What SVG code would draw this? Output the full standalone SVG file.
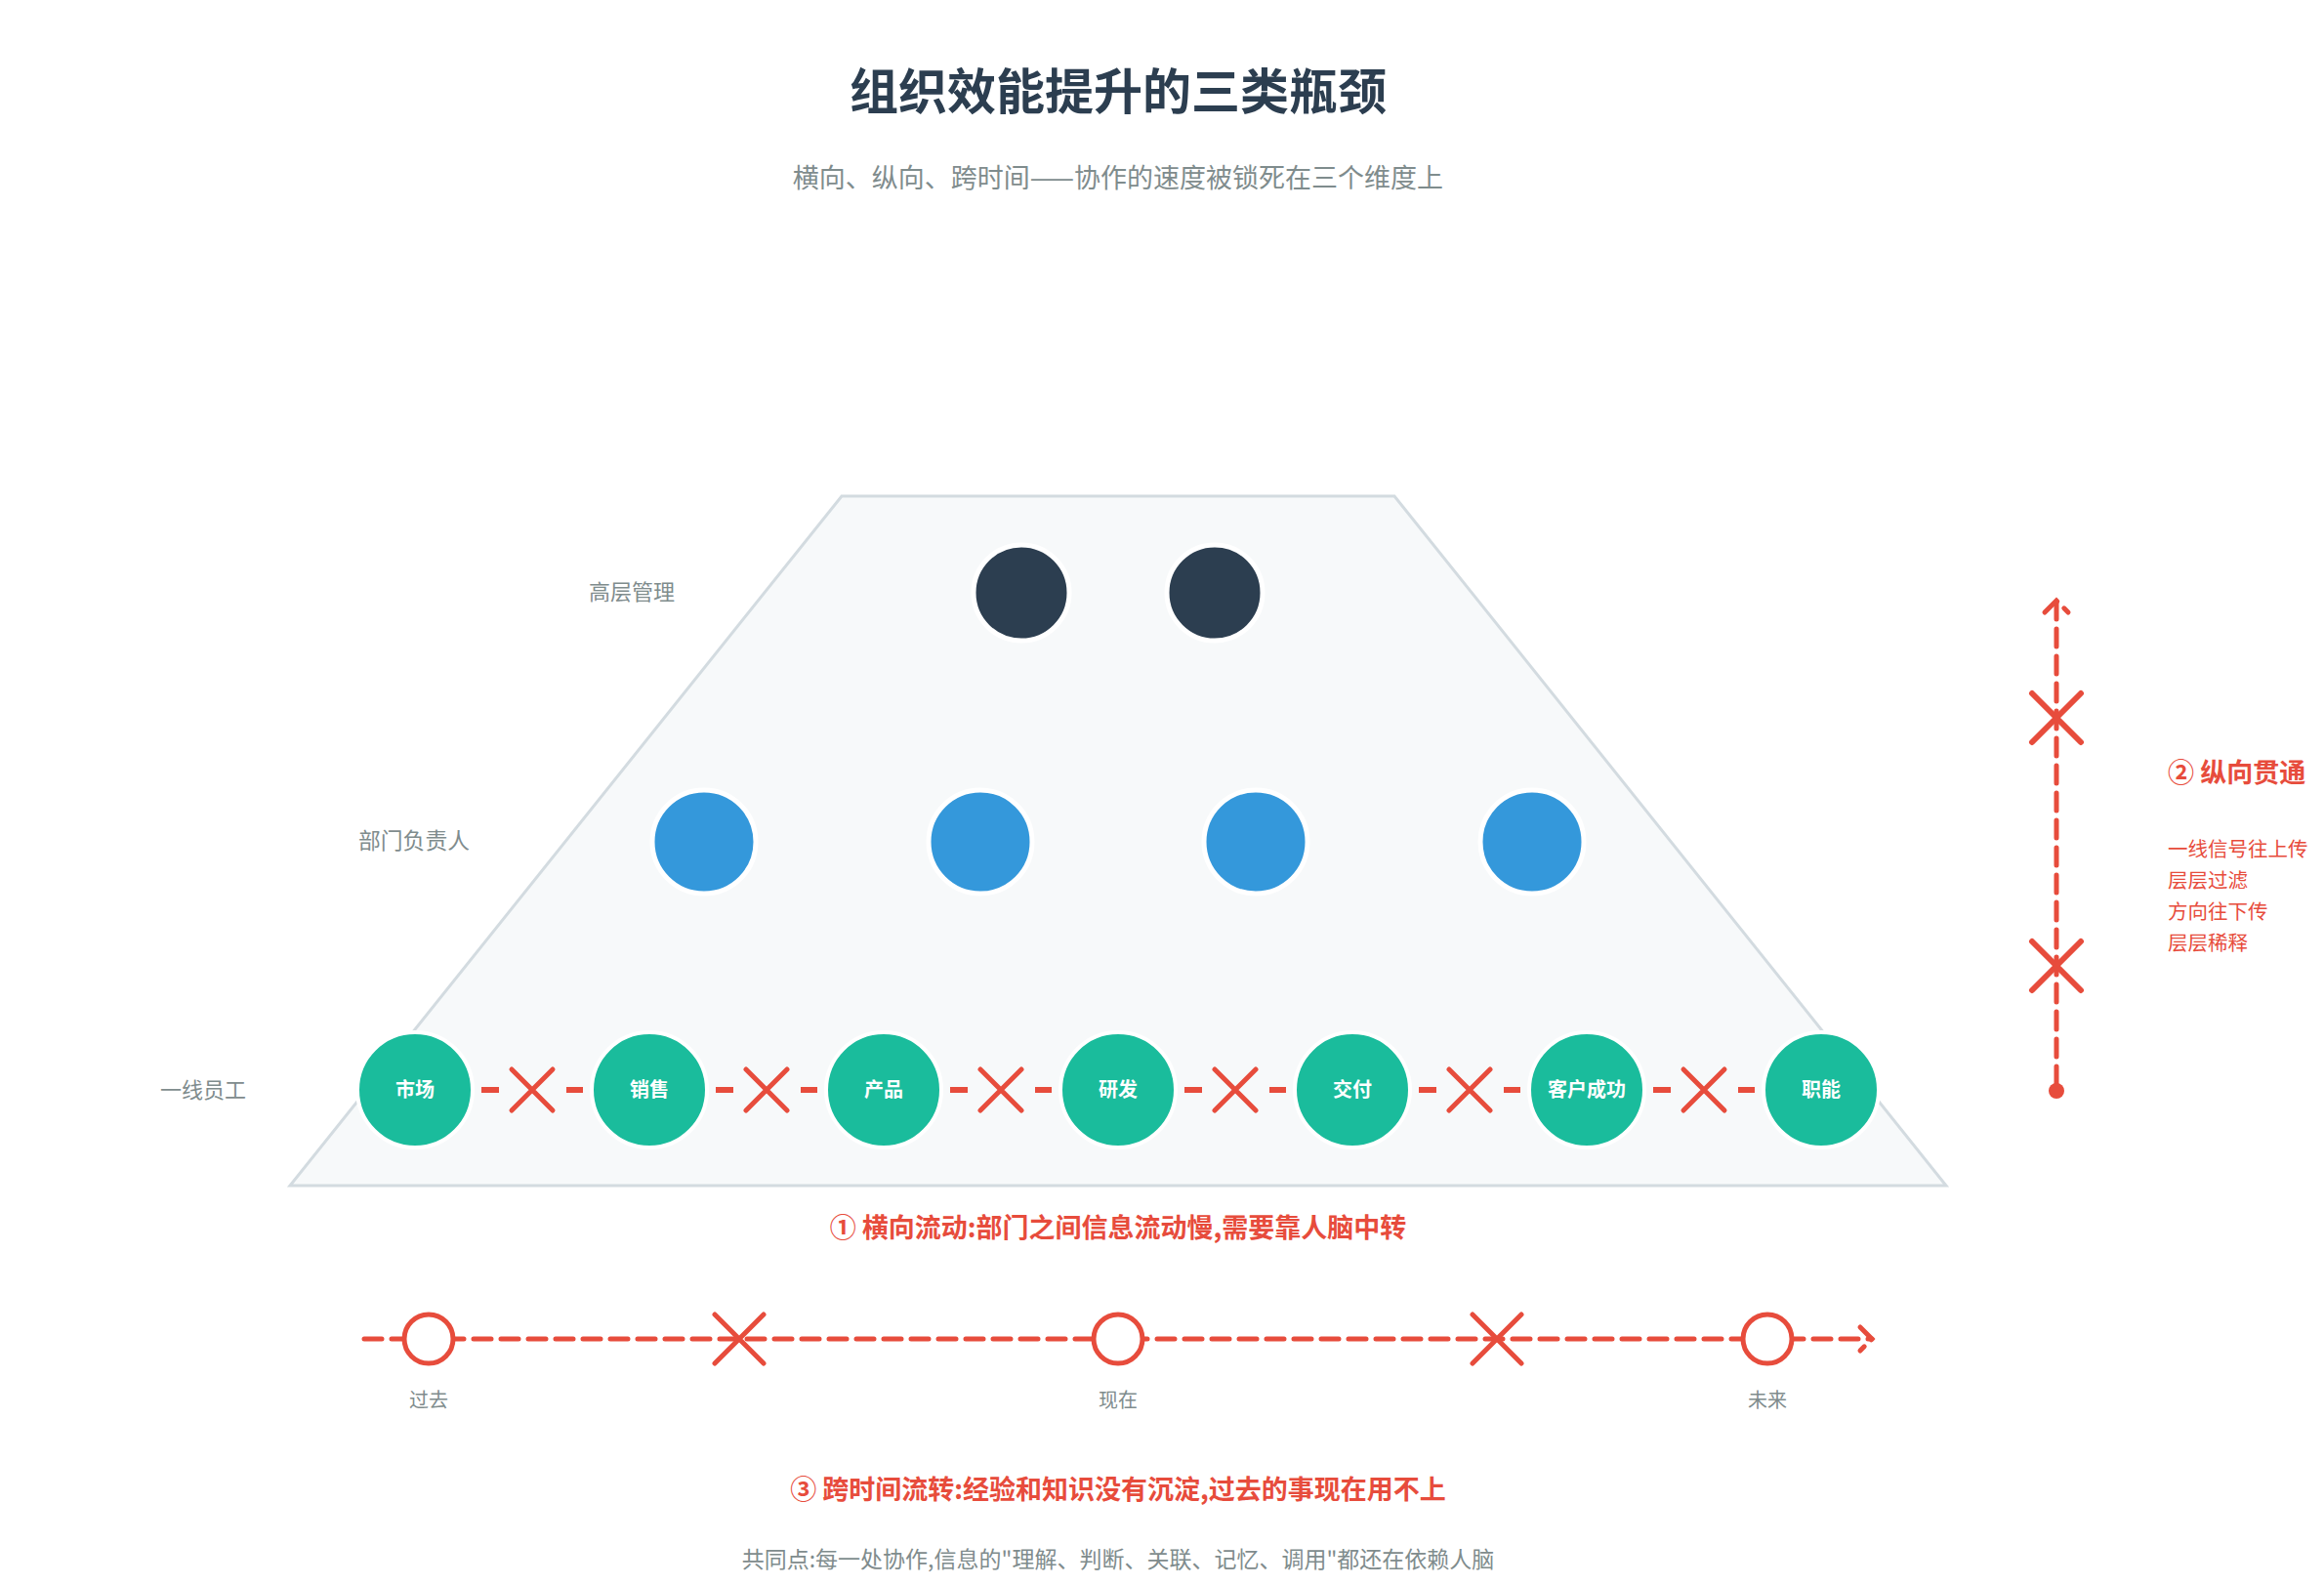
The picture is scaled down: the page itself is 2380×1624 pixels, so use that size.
<svg xmlns="http://www.w3.org/2000/svg" width="2380" height="1624" viewBox="0 0 2380 1624">
<defs>
<style>
text{font-family:"Noto Sans CJK SC","Noto Sans",sans-serif;}
.title{font-size:50px;font-weight:700;fill:#2c3e50;text-anchor:middle;}
.sub{font-size:27px;fill:#7f8c8d;text-anchor:middle;}
.layer{font-size:22px;fill:#7f8c8d;}
.node-t{font-size:20px;font-weight:700;fill:#ffffff;text-anchor:middle;}
.red-b{font-size:27px;font-weight:700;fill:#e74c3c;}
.red-s{font-size:20.5px;fill:#e74c3c;}
.tl{font-size:20px;fill:#7f8c8d;text-anchor:middle;}
.foot{font-size:23px;fill:#7f8c8d;text-anchor:middle;}
.exec{fill:#2c3e50;stroke:#ffffff;stroke-width:5;}
.mgr{fill:#3498db;stroke:#ffffff;stroke-width:5;}
.staff{fill:#1abc9c;stroke:#ffffff;stroke-width:4;}
.dash{stroke:#e74c3c;stroke-width:6;fill:none;}
.cross{stroke:#e74c3c;stroke-width:5;stroke-linecap:round;fill:none;}
.flow{stroke:#e74c3c;stroke-width:5;stroke-linecap:round;stroke-dasharray:18 10;fill:none;}
.tnode{fill:#ffffff;stroke:#e74c3c;stroke-width:5;}
</style>
<marker id="arr" markerUnits="userSpaceOnUse" markerWidth="30" markerHeight="30" refX="0" refY="0" viewBox="-15 -15 30 30" orient="auto" overflow="visible">
<path d="M-12,-12 L0,0 L-12,12" class="flow"/>
</marker>
</defs>
<rect width="2380" height="1624" fill="#ffffff"/>

<text class="title" x="1145" y="112">组织效能提升的三类瓶颈</text>
<text class="sub" x="1145" y="192">横向、纵向、跨时间——协作的速度被锁死在三个维度上</text>

<g id="pyramid">
<polygon points="862,508 1428,508 1993,1214 297,1214" fill="#f7f9fa" stroke="#d3dbe0" stroke-width="3"/>
</g>

<g id="layer-labels">
<text class="layer" x="603" y="614">高层管理</text>
<text class="layer" x="367" y="869" style="font-size:22.8px">部门负责人</text>
<text class="layer" x="164" y="1124">一线员工</text>
</g>

<g id="connectors">
<g id="h-links">
<line class="dash" x1="493" y1="1116" x2="511" y2="1116"/><line class="dash" x1="580" y1="1116" x2="597" y2="1116"/>
<path class="cross" d="M524,1095 L566,1137 M566,1095 L524,1137"/>
<line class="dash" x1="733" y1="1116" x2="751" y2="1116"/><line class="dash" x1="820" y1="1116" x2="837" y2="1116"/>
<path class="cross" d="M764,1095 L806,1137 M806,1095 L764,1137"/>
<line class="dash" x1="973" y1="1116" x2="991" y2="1116"/><line class="dash" x1="1060" y1="1116" x2="1077" y2="1116"/>
<path class="cross" d="M1004,1095 L1046,1137 M1046,1095 L1004,1137"/>
<line class="dash" x1="1213" y1="1116" x2="1231" y2="1116"/><line class="dash" x1="1300" y1="1116" x2="1317" y2="1116"/>
<path class="cross" d="M1244,1095 L1286,1137 M1286,1095 L1244,1137"/>
<line class="dash" x1="1453" y1="1116" x2="1471" y2="1116"/><line class="dash" x1="1540" y1="1116" x2="1557" y2="1116"/>
<path class="cross" d="M1484,1095 L1526,1137 M1526,1095 L1484,1137"/>
<line class="dash" x1="1693" y1="1116" x2="1711" y2="1116"/><line class="dash" x1="1780" y1="1116" x2="1797" y2="1116"/>
<path class="cross" d="M1724,1095 L1766,1137 M1766,1095 L1724,1137"/>
</g>
<g id="v-link">
<line class="flow" x1="2106" y1="1110" x2="2106" y2="615" marker-end="url(#arr)"/>
<circle cx="2106" cy="1117" r="8" fill="#e74c3c"/>
<path class="cross" style="stroke-width:6" d="M2081,710 L2131,760 M2131,710 L2081,760"/>
<path class="cross" style="stroke-width:6" d="M2081,964 L2131,1014 M2131,964 L2081,1014"/>
</g>
<g id="timeline">
<line class="flow" x1="373" y1="1371" x2="1917" y2="1371" marker-end="url(#arr)"/>
<path class="cross" d="M732,1346 L782,1396 M782,1346 L732,1396"/>
<path class="cross" d="M1508,1346 L1558,1396 M1558,1346 L1508,1396"/>
</g>
</g>

<g id="node-exec-1"><circle class="exec" cx="1046" cy="607" r="49"/></g>
<g id="node-exec-2"><circle class="exec" cx="1244" cy="607" r="49"/></g>

<g id="node-mgr-1"><circle class="mgr" cx="721" cy="862" r="53"/></g>
<g id="node-mgr-2"><circle class="mgr" cx="1004" cy="862" r="53"/></g>
<g id="node-mgr-3"><circle class="mgr" cx="1286" cy="862" r="53"/></g>
<g id="node-mgr-4"><circle class="mgr" cx="1569" cy="862" r="53"/></g>

<g id="node-market"><circle class="staff" cx="425" cy="1116" r="59"/><text class="node-t" x="425" y="1123">市场</text></g>
<g id="node-sales"><circle class="staff" cx="665" cy="1116" r="59"/><text class="node-t" x="665" y="1123">销售</text></g>
<g id="node-product"><circle class="staff" cx="905" cy="1116" r="59"/><text class="node-t" x="905" y="1123">产品</text></g>
<g id="node-rd"><circle class="staff" cx="1145" cy="1116" r="59"/><text class="node-t" x="1145" y="1123">研发</text></g>
<g id="node-delivery"><circle class="staff" cx="1385" cy="1116" r="59"/><text class="node-t" x="1385" y="1123">交付</text></g>
<g id="node-cs"><circle class="staff" cx="1625" cy="1116" r="59"/><text class="node-t" x="1625" y="1123">客户成功</text></g>
<g id="node-func"><circle class="staff" cx="1865" cy="1116" r="59"/><text class="node-t" x="1865" y="1123">职能</text></g>

<g id="node-past"><circle class="tnode" cx="439" cy="1371" r="25"/><text class="tl" x="439" y="1441">过去</text></g>
<g id="node-now"><circle class="tnode" cx="1145" cy="1371" r="25"/><text class="tl" x="1145" y="1441">现在</text></g>
<g id="node-future"><circle class="tnode" cx="1810" cy="1371" r="25"/><text class="tl" x="1810" y="1441">未来</text></g>

<g id="notes">
<text class="red-b" x="1145" y="1267" text-anchor="middle">① 横向流动:部门之间信息流动慢,需要靠人脑中转</text>
<text class="red-b" x="2220" y="801">② 纵向贯通</text>
<text class="red-s" x="2220" y="877">一线信号往上传</text>
<text class="red-s" x="2220" y="909">层层过滤</text>
<text class="red-s" x="2220" y="941">方向往下传</text>
<text class="red-s" x="2220" y="973">层层稀释</text>
<text class="red-b" x="1145" y="1535" text-anchor="middle">③ 跨时间流转:经验和知识没有沉淀,过去的事现在用不上</text>
<text class="foot" x="1145" y="1605">共同点:每一处协作,信息的"理解、判断、关联、记忆、调用"都还在依赖人脑</text>
</g>
</svg>
